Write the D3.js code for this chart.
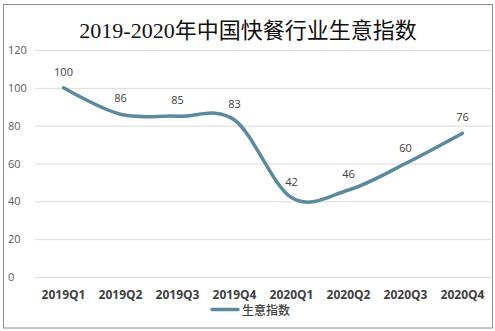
<!DOCTYPE html>
<html><head><meta charset="utf-8">
<script src="https://cdn.jsdelivr.net/npm/d3@7"></script>
<style>body{margin:0;background:#fff}svg{display:block}</style>
</head><body>
<script>
const categories = ["2019Q1","2019Q2","2019Q3","2019Q4","2020Q1","2020Q2","2020Q3","2020Q4"];
const values = [100, 86, 85, 83, 42, 46, 60, 76];
const yTicks = [0, 20, 40, 60, 80, 100, 120];
const seriesName = "生意指数";
const title = "2019-2020年中国快餐行业生意指数";

(function(){
const W = 495, H = 331;
const svg = d3.select("body").append("svg").attr("width", W).attr("height", H);
svg.append("rect").attr("x",3.5).attr("y",4.5).attr("width",489).attr("height",323.5)
  .attr("fill","#fff").attr("stroke","#8c8c8c").attr("stroke-width",1);

const mL = 35, mR = 491, mT = 50, mB = 277;
const x = d3.scaleBand().domain(categories).range([mL, mR]);
const y = d3.scaleLinear().domain([0,120]).range([mB, mT]);

svg.append("text").attr("x", 248).attr("y", 38).attr("text-anchor","middle")
  .attr("font-family","'Liberation Serif','Noto Sans CJK SC',serif").attr("font-size",22)
  .attr("fill","#111").text(title);

const grid = svg.append("g").attr("transform",`translate(${mL},0)`)
  .call(d3.axisLeft(y).tickValues(yTicks).tickSize(-(mR-mL)).tickFormat(""));
grid.select(".domain").remove();
grid.selectAll("line").attr("stroke","#d9d9d9").attr("stroke-width",1);

svg.selectAll(".ylab").data(yTicks).join("text").attr("class","ylab")
  .attr("x", 8).attr("y", d => y(d) + 4).attr("font-family","'Open Sans',sans-serif")
  .attr("font-size",11).attr("fill","#595959").text(d => d);

const xa = svg.append("g").attr("transform",`translate(0,${mB})`)
  .call(d3.axisBottom(x).tickSize(0));
xa.select(".domain").remove();
xa.selectAll("text").attr("y", 21.5).attr("dy", 0).attr("font-family","'Open Sans',sans-serif").attr("font-size",12)
  .attr("font-weight","bold").attr("fill","#404040");

const cx = d => x(d) + x.bandwidth()/2;
const line = d3.line().x((d,i) => cx(categories[i])).y(d => y(d)).curve(d3.curveCardinal.tension(0));
svg.append("path").datum(values).attr("d", line).attr("fill","none")
  .attr("stroke","#5b8a9c").attr("stroke-width",3.5).attr("stroke-linecap","round");

svg.selectAll(".dl").data(values).join("text").attr("class","dl")
  .attr("x",(d,i) => cx(categories[i])).attr("y", d => y(d) - 12)
  .attr("text-anchor","middle").attr("font-family","'Open Sans',sans-serif")
  .attr("font-size",11).attr("fill","#404040").text(d => d);

const lg = svg.append("g");
lg.append("line").attr("x1",212).attr("x2",238).attr("y1",309.5).attr("y2",309.5)
  .attr("stroke","#5b8a9c").attr("stroke-width",3.5).attr("stroke-linecap","round");
lg.append("text").attr("x",242).attr("y",314.5).attr("font-family","'Noto Sans CJK SC',sans-serif")
  .attr("font-size",12).attr("font-weight","500").attr("fill","#404040").text(seriesName);
})();
</script>
</body></html>
